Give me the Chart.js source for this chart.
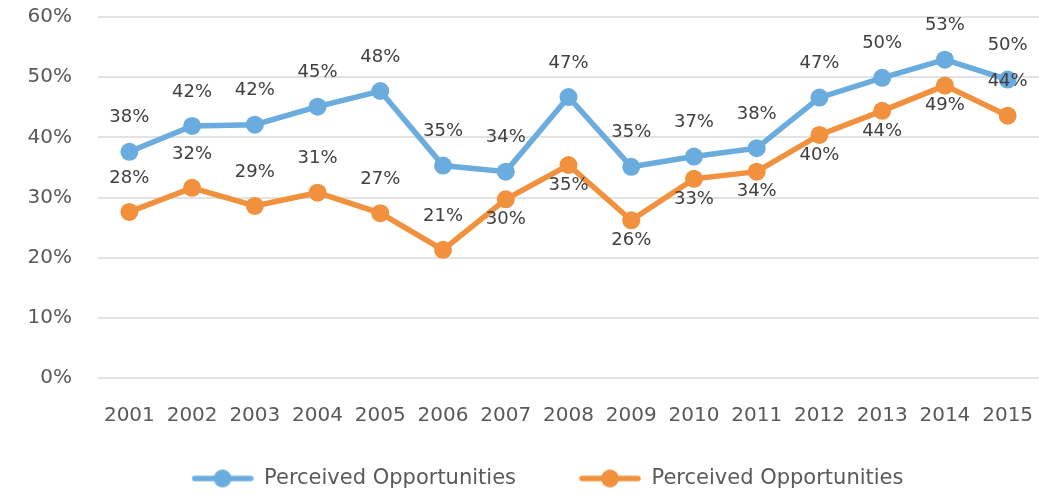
<!DOCTYPE html>
<html>
<head>
<meta charset="utf-8">
<script src="https://cdn.jsdelivr.net/npm/chart.js@4/dist/chart.umd.min.js"></script>
<style>
  html, body { margin: 0; padding: 0; background: #fff; }
  #wrap { width: 1039px; height: 495px; }
</style>
</head>
<body>
<div id="wrap"><canvas id="chart"></canvas></div>
<script>
// values (percent)
const years = ["2001", "2002", "2003", "2004", "2005", "2006", "2007", "2008", "2009", "2010", "2011", "2012", "2013", "2014", "2015"];
const blueValues = [37.6, 41.9, 42.1, 45.1, 47.7, 35.3, 34.3, 46.7, 35.1, 36.8, 38.2, 46.6, 49.9, 52.9, 49.6];
const orangeValues = [27.6, 31.6, 28.6, 30.8, 27.4, 21.3, 29.7, 35.4, 26.2, 33.1, 34.3, 40.4, 44.4, 48.6, 43.6];
const seriesNames = ["Perceived Opportunities", "Perceived Opportunities"];
const yTicks = [0, 10, 20, 30, 40, 50, 60];

// where the orange labels sit (true = above the point)
const orangeLabelAbove = [true, true, true, true, true, true, false, false, false, false, false, false, false, false, true];

const BLUE = "#6BACDE";
const ORANGE = "#F1913E";
const FONT = "'DejaVu Sans', sans-serif";

// legend swatch: a short line with a dot in the middle
function legendSwatch(color) {
  const c = document.createElement("canvas");
  c.width = 62;
  c.height = 22;
  const g = c.getContext("2d");
  g.strokeStyle = color;
  g.lineWidth = 5.5;
  g.lineCap = "round";
  g.beginPath();
  g.moveTo(3, 11);
  g.lineTo(59, 11);
  g.stroke();
  g.fillStyle = color;
  g.beginPath();
  g.arc(31, 11, 9, 0, Math.PI * 2);
  g.fill();
  return c;
}

// value labels over / under each point
const valueLabels = {
  id: "valueLabels",
  afterDatasetsDraw(chart) {
    const ctx = chart.ctx;
    ctx.save();
    ctx.font = "18px " + FONT;
    ctx.fillStyle = "#404040";
    ctx.textAlign = "center";
    ctx.textBaseline = "middle";
    chart.data.datasets.forEach((ds, di) => {
      const meta = chart.getDatasetMeta(di);
      meta.data.forEach((pt, i) => {
        const above = di === 0 ? true : orangeLabelAbove[i];
        const dy = above ? -34 : 20;
        ctx.fillText(Math.round(ds.data[i]) + "%", pt.x, pt.y + dy);
      });
    });
    ctx.restore();
  },
};

// legend sits a bit higher and wider spaced than the layout box allows
const legendNudge = {
  id: "legendNudge",
  afterLayout(chart) {
    const lg = chart.legend;
    if (!lg) return;
    lg.top = 405;
    lg.left = 56;
  },
};

const swatches = [legendSwatch(BLUE), legendSwatch(ORANGE)];

new Chart(document.getElementById("chart"), {
  type: "line",
  data: {
    labels: years,
    datasets: [
      {
        label: seriesNames[0],
        data: blueValues,
        borderColor: BLUE,
        backgroundColor: BLUE,
        borderWidth: 5.5,
        pointRadius: 9,
        pointBorderWidth: 0,
        pointBackgroundColor: BLUE,
        tension: 0,
      },
      {
        label: seriesNames[1],
        data: orangeValues,
        borderColor: ORANGE,
        backgroundColor: ORANGE,
        borderWidth: 5.5,
        pointRadius: 9,
        pointBorderWidth: 0,
        pointBackgroundColor: ORANGE,
        tension: 0,
      },
    ],
  },
  options: {
    responsive: true,
    maintainAspectRatio: false,
    animation: false,
    layout: { autoPadding: false, padding: { left: 27, right: 0, top: 17, bottom: 0 } },
    plugins: {
      tooltip: { enabled: false },
      legend: {
        position: "bottom",
        maxHeight: 65,
        labels: {
          usePointStyle: true,
          pointStyleWidth: 62,
          padding: 63,
          color: "#595959",
          font: { family: FONT, size: 21 },
          generateLabels(chart) {
            return chart.data.datasets.map((ds, i) => ({
              text: ds.label,
              fillStyle: ds.borderColor,
              strokeStyle: ds.borderColor,
              fontColor: "#595959",
              pointStyle: swatches[i],
              lineWidth: 0,
              hidden: false,
              datasetIndex: i,
            }));
          },
        },
      },
    },
    scales: {
      x: {
        offset: true,
        grid: { display: false, drawTicks: false },
        border: { display: false },
        ticks: {
          padding: 26,
          color: "#595959",
          font: { family: FONT, size: 20 },
          maxRotation: 0,
          autoSkip: false,
        },
        afterFit(scale) {
          scale.height = 52;
          scale.paddingLeft = 0;
          scale.paddingRight = 0;
        },
      },
      y: {
        min: 0,
        max: 60,
        afterBuildTicks(scale) { scale.ticks = yTicks.map((v) => ({ value: v })); },
        grid: { color: "#E2E2E2", lineWidth: 2, drawTicks: false },
        border: { display: false },
        ticks: {
          padding: 26,
          color: "#595959",
          font: { family: FONT, size: 20 },
          callback: (v) => v + "%",
        },
        afterFit(scale) {
          scale.width = 71;
          scale.paddingTop = 0;
          scale.paddingBottom = 0;
        },
      },
    },
  },
  plugins: [valueLabels, legendNudge],
});
</script>
</body>
</html>
